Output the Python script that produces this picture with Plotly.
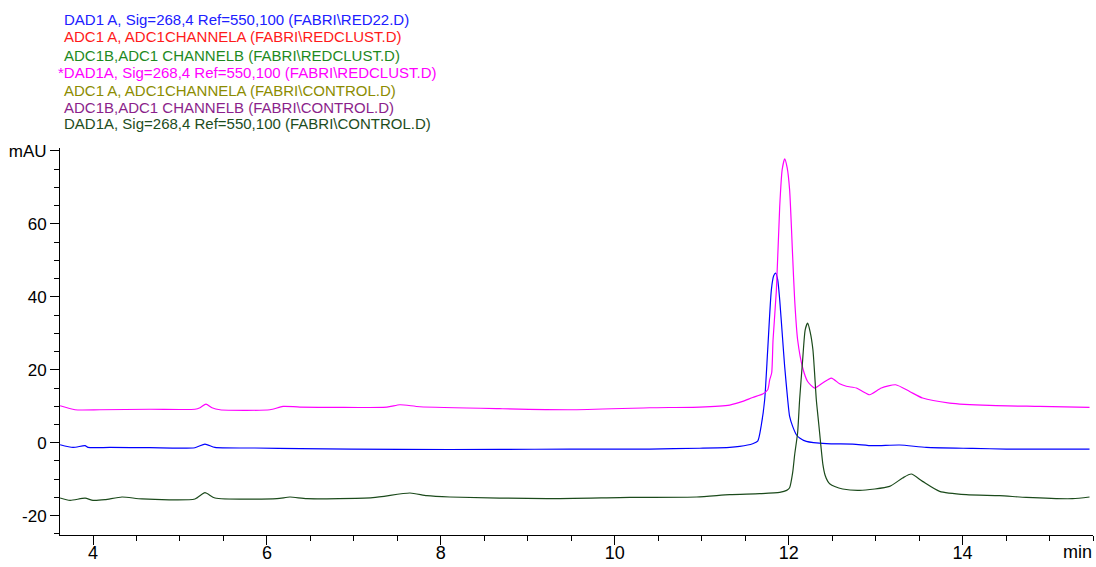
import plotly.graph_objects as go

# Retention time (min) and signal (mAU)
blue_t = [3.621, 3.770, 3.908, 3.943, 4.195, 4.655, 5.172, 5.287, 5.402, 5.862, 6.379, 7.529,
          8.678, 9.483, 10.402, 10.977, 11.322, 11.437, 11.586, 11.644, 11.686, 11.724, 11.759,
          11.801, 11.828, 11.851, 11.874, 11.897, 11.931, 11.954, 11.989, 12.011, 12.046, 12.089,
          12.126, 12.203, 12.433, 12.736, 12.966, 13.276, 13.583, 14.115, 14.502, 15.46]
blue_v = [-0.55, -1.29, -0.82, -1.29, -1.29, -1.37, -1.37, -0.36, -1.29, -1.45, -1.64, -1.84,
          -1.84, -1.73, -1.73, -1.51, -1.29, -1.01, -0.27, 0.41, 4.93, 11.78, 25.48,
          41.92, 45.75, 46.49, 44.66, 39.18, 28.22, 20.9, 11.78, 7.21, 4.47, 2.19,
          1.29, 0.36, -0.27, -0.36, -0.82, -0.63, -1.29, -1.56, -1.73, -1.73]

mag_t = [3.621, 3.793, 4.080, 4.655, 5.172, 5.230, 5.299, 5.368, 5.460, 6.034, 6.184, 6.379,
         7.379, 7.529, 7.759, 8.678, 9.483, 10.402, 10.977, 11.322, 11.471, 11.586, 11.701,
         11.759, 11.782, 11.805, 11.820, 11.859, 11.897, 11.925, 11.954, 11.983, 12.011, 12.046,
         12.069, 12.103, 12.161, 12.218, 12.299, 12.391, 12.491, 12.586, 12.664, 12.779, 12.851,
         12.931, 13.066, 13.230, 13.391, 13.540, 13.851, 14.310, 14.885, 15.46]
mag_v = [10.14, 9.04, 9.04, 9.18, 9.18, 9.59, 10.6, 9.59, 9.04, 9.04, 9.95, 9.78,
         9.78, 10.41, 9.86, 9.32, 9.04, 9.59, 9.78, 10.33, 11.32, 12.41, 13.34,
         14.52, 17.26, 19.18, 28.0, 41.92, 64.74, 74.79, 77.81, 75.34, 69.32, 51.04,
         39.18, 28.22, 20.55, 16.79, 14.99, 16.36, 17.73, 16.16, 15.48, 14.99, 14.05,
         13.15, 14.99, 15.89, 14.05, 12.25, 10.88, 10.22, 9.95, 9.67]

grn_t = [3.621, 3.736, 3.908, 4.0, 4.138, 4.333, 4.563, 5.172, 5.287, 5.402, 6.115, 6.264,
         6.460, 7.218, 7.644, 7.839, 8.103, 9.218, 10.172, 10.943, 11.322, 11.667, 11.897,
         11.977, 12.011, 12.046, 12.069, 12.103, 12.126, 12.161, 12.190, 12.218, 12.247, 12.279,
         12.318, 12.337, 12.356, 12.394, 12.420, 12.450, 12.475, 12.530, 12.621, 12.816, 13.161, 13.310,
         13.410, 13.540, 13.736, 14.043, 14.425, 14.732, 15.264, 15.46]
grn_v = [-15.15, -15.81, -15.21, -15.81, -15.62, -14.88, -15.42, -15.42, -13.70, -15.15, -15.34, -14.88,
         -15.34, -15.07, -13.78, -14.52, -14.88, -15.34, -14.99, -14.88, -14.25, -13.97, -13.62,
         -13.07, -12.33, -8.22, -3.29, 2.74, 11.78, 22.74, 30.96, 32.79, 30.41, 25.48,
         11.78, 7.21, 2.74, -6.0, -9.0, -10.6, -11.3, -12.0, -12.68, -13.07, -11.97, -9.67,
         -8.58, -10.60, -13.34, -14.25, -14.52, -14.99, -15.34, -14.88]

legend_texts = [
    "DAD1 A, Sig=268,4 Ref=550,100 (FABRI\\RED22.D)",
    "ADC1 A, ADC1CHANNELA (FABRI\\REDCLUST.D)",
    "ADC1B,ADC1 CHANNELB (FABRI\\REDCLUST.D)",
    "*DAD1A, Sig=268,4 Ref=550,100 (FABRI\\REDCLUST.D)",
    "ADC1 A, ADC1CHANNELA (FABRI\\CONTROL.D)",
    "ADC1B,ADC1 CHANNELB (FABRI\\CONTROL.D)",
    "DAD1A, Sig=268,4 Ref=550,100 (FABRI\\CONTROL.D)",
]
legend_colors = ["#2020ff", "#ff1a1a", "#1e8a1e", "#ff00ff", "#8c8c00", "#8b1f8b", "#1d4d1d"]
legend_x = [62, 62, 62, 56, 62, 62, 62]
legend_y = [19, 37, 55, 72, 90, 107, 124]

x_ticks = [4, 6, 8, 10, 12, 14]
y_ticks = [-20, 0, 20, 40, 60, 80]
y_tick_text = ["-20", "0", "20", "40", "60", "mAU"]

PL, PT, PW, PH = 60, 148, 1033, 387

fig = go.Figure()
for t, v, c in [(blue_t, blue_v, "#0000ff"), (mag_t, mag_v, "#ff00ff"), (grn_t, grn_v, "#1b4a1b")]:
    fig.add_trace(go.Scatter(x=t, y=v, mode="lines",
                             line=dict(color=c, width=1.2, shape="spline", smoothing=0.6),
                             showlegend=False, hoverinfo="skip"))

for txt, col, lx, ly in zip(legend_texts, legend_colors, legend_x, legend_y):
    fig.add_annotation(text=txt, xref="paper", yref="paper",
                       x=(lx - PL) / PW, y=(PT + PH - ly) / PH,
                       xanchor="left", yanchor="middle", showarrow=False,
                       font=dict(family="Liberation Sans, Arial, sans-serif", size=15, color=col))

fig.add_annotation(text="min", xref="x", yref="paper", x=15.32, y=(PT + PH - 552) / PH,
                   xanchor="center", yanchor="middle", showarrow=False,
                   font=dict(family="Liberation Sans Narrow, Arial Narrow, sans-serif", size=18, color="black"))

fig.update_layout(
    width=1096, height=567,
    margin=dict(l=PL, r=1096 - PL - PW, t=PT, b=567 - PT - PH),
    paper_bgcolor="white", plot_bgcolor="white",
    xaxis=dict(range=[3.62, 15.5], showgrid=False, zeroline=False, automargin=False,
               showline=True, linecolor="black", linewidth=1,
               tickmode="array", tickvals=x_ticks, ticks="outside", ticklen=9,
               tickcolor="black", tickwidth=1, ticklabelstandoff=-8,
               tickfont=dict(family="Liberation Sans Narrow, Arial Narrow, sans-serif", size=18, color="black"),
               minor=dict(dtick=0.5, ticks="outside", ticklen=5, tickcolor="black", showgrid=False)),
    yaxis=dict(range=[-25.3, 80.8], showgrid=False, zeroline=False, automargin=False,
               showline=True, linecolor="black", linewidth=1,
               tickmode="array", tickvals=y_ticks, ticktext=y_tick_text,
               ticks="outside", ticklen=9, tickcolor="black", tickwidth=1,
               tickfont=dict(family="Liberation Sans, Arial, sans-serif", size=17, color="black"),
               minor=dict(dtick=5, ticks="outside", ticklen=5, tickcolor="black", showgrid=False)),
)

fig.write_html("out.html")
